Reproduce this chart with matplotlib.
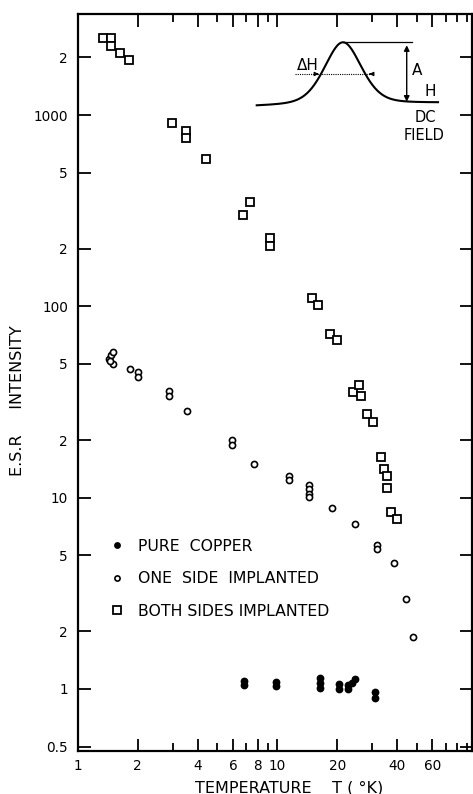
import numpy as np
import matplotlib
matplotlib.use("Agg")
import matplotlib.pyplot as plt
from matplotlib.ticker import FixedLocator, NullFormatter

plt.rcParams['font.family'] = ['DejaVu Sans']

# ---- data ----
both_T = [1.34, 1.47, 1.47, 1.63, 1.81, 2.96, 3.48, 3.48, 4.38, 6.71, 7.33, 9.2, 9.2,
          14.9, 16.1, 18.4, 20.0, 24.1, 25.7, 26.2, 28.1, 30.3, 33.0, 34.4, 35.6, 35.6, 37.1, 39.7]
both_I = [2520, 2520, 2300, 2120, 1940, 906, 826, 757, 587, 300, 351, 227, 208,
          111, 101.6, 71.5, 66.7, 35.6, 38.8, 34.1, 27.4, 24.8, 16.4, 14.2, 13.0, 11.2, 8.45, 7.74]

one_T = [1.44, 1.47, 1.50, 1.50, 1.46, 1.83, 2.0, 2.0, 2.87, 2.87, 3.54, 5.96, 5.96, 7.68,
         11.5, 11.5, 14.5, 14.5, 14.5, 14.5, 18.8, 24.6, 31.6, 31.6, 38.5, 44.2, 48.1]
one_I = [53, 55.5, 50, 57.5, 51.5, 47.1, 45.2, 42.9, 36.3, 34.0, 28.5, 20.0, 18.9, 15.0,
         13.0, 12.3, 11.6, 11.07, 10.5, 10.05, 8.8, 7.26, 5.66, 5.39, 4.56, 2.95, 1.88]

pure_T = [6.79, 6.79, 9.83, 9.83, 16.4, 16.4, 16.4, 20.5, 20.5, 22.7, 22.7, 23.6, 24.6, 30.9, 30.9]
pure_I = [1.10, 1.05, 1.09, 1.04, 1.146, 1.08, 1.01, 1.058, 1.0, 1.05, 1.0, 1.07, 1.128, 0.968, 0.90]

x_major = [1, 2, 4, 6, 8, 10, 20, 40, 60]
x_minor = [3, 5, 7, 9, 30, 50, 70, 80, 90]
y_ticks = [0.5, 1, 2, 5, 10, 20, 50, 100, 200, 500, 1000, 2000]
y_labels = ['0.5', '1', '2', '5', '10', '2', '5', '100', '2', '5', '1000', '2']

fig = plt.figure(figsize=(4.73, 7.94), dpi=100)
ax = fig.add_axes([0.1643, 0.0542, 0.8330, 0.9282])
ax.set_xscale('log')
ax.set_yscale('log')
ax.set_xlim(1, 94.5)
ax.set_ylim(0.474, 3377)

ax.plot(both_T, both_I, ls='none', marker='s', ms=6.0, mfc='white', mec='black', mew=1.3,
        label='BOTH SIDES IMPLANTED')
ax.plot(one_T, one_I, ls='none', marker='o', ms=4.4, mfc='white', mec='black', mew=1.2,
        label='ONE  SIDE  IMPLANTED')
ax.plot(pure_T, pure_I, ls='none', marker='o', ms=4.6, mfc='black', mec='black', mew=1.0,
        label='PURE  COPPER')

# ticks
ax.xaxis.set_major_locator(FixedLocator(x_major))
ax.xaxis.set_minor_locator(FixedLocator(x_minor))
ax.xaxis.set_minor_formatter(NullFormatter())
ax.set_xticklabels([str(v) for v in x_major])
ax.yaxis.set_major_locator(FixedLocator(y_ticks))
ax.yaxis.set_minor_locator(FixedLocator([]))
ax.set_yticklabels(y_labels)
ax.tick_params(axis='both', which='major', direction='in', length=9, width=1.3,
               top=True, right=True, labelsize=9.8, pad=7)
ax.tick_params(axis='x', which='major', pad=6)
ax.tick_params(axis='x', which='minor', direction='in', length=6, width=1.3, top=True)
for s in ax.spines.values():
    s.set_linewidth(1.6)

ax.set_xlabel('TEMPERATURE    T ( °K)', fontsize=11.5)
ax.xaxis.set_label_coords((289 - 77.7) / 394.0, -(788 - 751) / 737.0)
ax.xaxis.label.set_va('center')
fig.text(18 / 473, 1 - 401 / 794, 'E.S.R     INTENSITY', rotation=90, ha='center', va='center',
         fontsize=11.5)

# legend
h, l = ax.get_legend_handles_labels()
order = [2, 1, 0]
leg = ax.legend([h[i] for i in order], [l[i] for i in order], loc='upper left',
                bbox_to_anchor=(0.045, 0.307), frameon=False, fontsize=11.3,
                handletextpad=0.8, labelspacing=1.12, handlelength=1.0, markerscale=0.85)

# schematic inset (resonance line sketch) in axes-fraction coords
def fx(px):
    return (px - 77.7) / 394.0

def fy(py):
    return (751.0 - py) / 737.0

xc, hw = 343.0, 22.0
xs = np.linspace(256.7, 438.0, 300)
base = 106.7 + (103.3 - 106.7) * (xs - xs[0]) / (xs[-1] - xs[0])
shape = 0.65 * np.exp(-np.log(2) * ((xs - xc) / hw) ** 2) + 0.35 / (1 + ((xs - xc) / hw) ** 2)
ys = base - (base - 42.3) * shape
ax.plot(fx(xs), fy(ys), color='black', lw=1.5, transform=ax.transAxes)
ax.plot([fx(343), fx(411.7)], [fy(42.3), fy(42.3)], color='black', lw=0.9, transform=ax.transAxes)
ax.plot([fx(295), fx(372)], [fy(74), fy(74)], color='black', lw=0.8, ls=(0, (1, 1)),
        transform=ax.transAxes)
ax.annotate('', xy=(fx(406.7), fy(42.5)), xytext=(fx(406.7), fy(104.5)),
            xycoords='axes fraction', textcoords='axes fraction',
            arrowprops=dict(arrowstyle='<|-|>', color='black', lw=1.0, mutation_scale=8))
ax.annotate('', xy=(fx(321.5), fy(74)), xytext=(fx(314), fy(74)),
            xycoords='axes fraction', textcoords='axes fraction',
            arrowprops=dict(arrowstyle='-|>', color='black', lw=0.8, mutation_scale=6))
ax.annotate('', xy=(fx(366.5), fy(74)), xytext=(fx(373), fy(74)),
            xycoords='axes fraction', textcoords='axes fraction',
            arrowprops=dict(arrowstyle='-|>', color='black', lw=0.8, mutation_scale=6))
ax.text(fx(308), fy(66), 'ΔH', transform=ax.transAxes, ha='center', va='center', fontsize=11)
ax.text(fx(417), fy(71), 'A', transform=ax.transAxes, ha='center', va='center', fontsize=11)
ax.text(fx(430), fy(92), 'H', transform=ax.transAxes, ha='center', va='center', fontsize=11)
ax.text(fx(425), fy(117.5), 'DC', transform=ax.transAxes, ha='center', va='center', fontsize=10.5)
ax.text(fx(424), fy(136), 'FIELD', transform=ax.transAxes, ha='center', va='center', fontsize=10.5)

fig.savefig('out.png', dpi=100)
